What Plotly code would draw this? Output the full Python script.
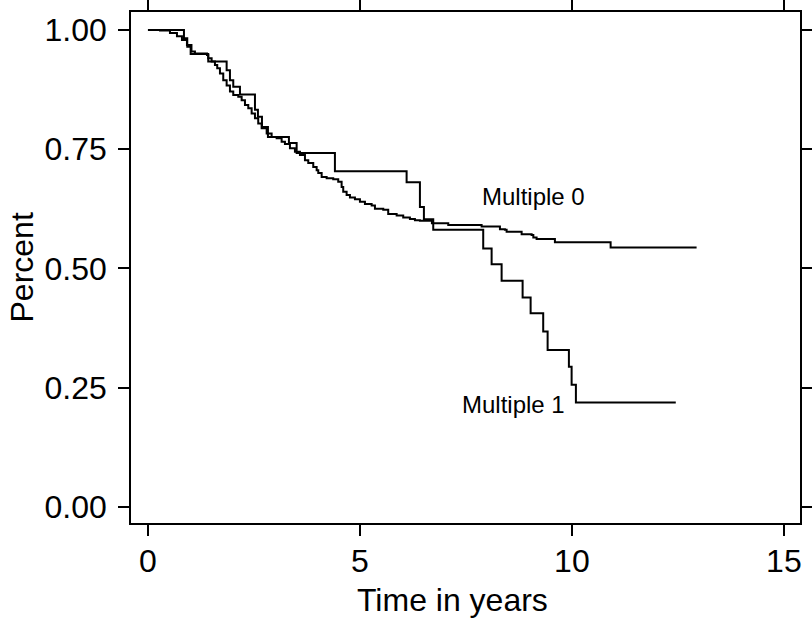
import plotly.graph_objects as go

# Kaplan-Meier style survival steps (time in years, survival proportion)
m0_time = [0, 0.283, 0.519, 0.684, 0.802, 0.920, 1.026, 1.108, 1.392, 1.422, 1.502, 1.580,
           1.634, 1.698, 1.776, 1.856, 1.934, 2.012, 2.130, 2.210, 2.288, 2.366, 2.446, 2.524,
           2.601, 2.682, 2.800, 2.917, 3.035, 3.153, 3.231, 3.349, 3.467, 3.585, 3.703, 3.781,
           3.899, 3.979, 4.017, 4.097, 4.215, 4.370, 4.488, 4.568, 4.606, 4.686, 4.764, 4.882,
           5.000, 5.118, 5.276, 5.354, 5.550, 5.667, 5.866, 6.021, 6.179, 6.297, 6.415, 6.698,
           7.083, 7.870, 8.302, 8.420, 8.460, 8.814, 9.050, 9.090, 9.167, 9.599, 10.913, 12.941]
m0_surv = [1.0, 0.999, 0.994, 0.987, 0.979, 0.969, 0.955, 0.951, 0.948, 0.941, 0.934, 0.927,
           0.920, 0.909, 0.895, 0.884, 0.871, 0.864, 0.860, 0.853, 0.843, 0.836, 0.825, 0.815,
           0.804, 0.794, 0.783, 0.776, 0.773, 0.766, 0.761, 0.752, 0.745, 0.738, 0.727, 0.721,
           0.713, 0.706, 0.700, 0.692, 0.689, 0.687, 0.682, 0.671, 0.661, 0.654, 0.649, 0.645,
           0.640, 0.635, 0.632, 0.625, 0.623, 0.614, 0.611, 0.607, 0.604, 0.601, 0.600, 0.595,
           0.591, 0.588, 0.582, 0.581, 0.577, 0.572, 0.570, 0.565, 0.562, 0.555, 0.544, 0.544]

m1_time = [0, 0.849, 0.927, 1.007, 1.422, 1.856, 1.934, 2.012, 2.170, 2.524, 2.594, 2.689,
           2.830, 3.325, 3.507, 4.410, 6.101, 6.415, 6.509, 6.729, 7.908, 8.106, 8.342, 8.837,
           9.026, 9.323, 9.427, 9.929, 9.993, 10.094, 12.45]
m1_surv = [1.0, 0.983, 0.965, 0.950, 0.934, 0.916, 0.895, 0.881, 0.865, 0.833, 0.818, 0.797,
           0.776, 0.763, 0.742, 0.704, 0.681, 0.629, 0.603, 0.581, 0.542, 0.509, 0.474, 0.439,
           0.406, 0.368, 0.329, 0.294, 0.256, 0.219, 0.219]

labels = ["Multiple 0", "Multiple 1"]
label_pos = [(9.10, 0.650), (8.63, 0.214)]

x_ticks = [0, 5, 10, 15]
y_ticks = [0.0, 0.25, 0.5, 0.75, 1.0]
y_ticklabels = ["0.00", "0.25", "0.50", "0.75", "1.00"]
x_title = "Time in years"
y_title = "Percent"

FONT = "Liberation Sans, Arial, Helvetica, sans-serif"

fig = go.Figure()
for t, s, name in [(m0_time, m0_surv, labels[0]), (m1_time, m1_surv, labels[1])]:
    fig.add_trace(go.Scatter(x=t, y=s, mode="lines", name=name,
                             line=dict(color="black", width=2, shape="hv"),
                             showlegend=False, hoverinfo="skip"))

for name, (lx, ly) in zip(labels, label_pos):
    fig.add_annotation(x=lx, y=ly, text=name, showarrow=False,
                       font=dict(family=FONT, size=24, color="black"),
                       xanchor="center", yanchor="middle")

# axis titles
fig.add_annotation(xref="paper", yref="paper", x=0.48, y=0, yshift=-77,
                   text=x_title, showarrow=False,
                   font=dict(family=FONT, size=32, color="black"),
                   xanchor="center", yanchor="middle")
fig.add_annotation(xref="paper", yref="paper", x=0, y=0.5, xshift=-110,
                   text=y_title, showarrow=False, textangle=-90,
                   font=dict(family=FONT, size=32, color="black"),
                   xanchor="center", yanchor="middle")

axis_common = dict(showline=True, linecolor="black", linewidth=1.5, mirror="ticks",
                   ticks="outside", ticklen=11, tickwidth=1.5, tickcolor="black",
                   showgrid=False, zeroline=False, automargin=False,
                   tickfont=dict(family=FONT, size=32, color="black"))

fig.update_layout(
    template="none",
    width=812, height=621,
    margin=dict(l=131, r=12, t=12, b=98, autoexpand=False),
    paper_bgcolor="white", plot_bgcolor="white",
    xaxis=dict(range=[-0.40, 15.38], tickvals=x_ticks, ticklabelstandoff=-2,
               **axis_common),
    yaxis=dict(range=[-0.034, 1.038], tickvals=y_ticks, ticktext=y_ticklabels,
               ticklabelstandoff=5, **axis_common),
)

fig.write_html("out.html", post_script="document.body.style.margin='0px';",
               config={"displayModeBar": False})
